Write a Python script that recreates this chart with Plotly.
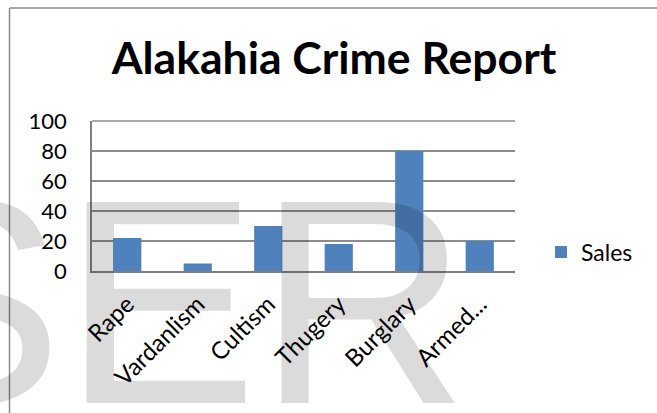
import plotly.graph_objects as go

categories = ["Rape", "Vardanlism", "Cultism", "Thugery", "Burglary", "Armed..."]
sales = [22, 5, 30, 18, 80, 20]
y_ticks = [0, 20, 40, 60, 80, 100]

W, H = 657, 413
L, R, T, B = 92, 515, 121, 271

def px(X):
    return (X - L) / (R - L)

def py(Y):
    return (B - Y) / (B - T)

fig = go.Figure()
fig.add_trace(go.Bar(
    x=categories, y=sales, name="Sales",
    marker=dict(color="#4F81BD", line=dict(width=0)),
    showlegend=True,
))

grid_col = "#8c8c8c"
fig.update_layout(
    width=W, height=H,
    margin=dict(l=L, r=W - R, t=T, b=H - B, pad=0),
    paper_bgcolor="white", plot_bgcolor="white",
    font=dict(family="Lato, Open Sans, sans-serif", color="black", size=22),
    title=dict(text="<b>Alakahia Crime Report</b>", font=dict(size=44.5, family="Lato"),
               x=334 / W, xanchor="center", xref="container",
               y=1 - 58 / H, yanchor="middle", yref="container"),
    bargap=0.6,
    showlegend=True,
    legend=dict(x=px(541), y=py(252), xanchor="left", yanchor="middle",
                font=dict(size=23), bgcolor="rgba(0,0,0,0)"),
    xaxis=dict(tickangle=-45, showgrid=False, showline=True, linecolor="#7f7f7f",
               linewidth=1.5, ticks="", tickfont=dict(size=24), ticklabelstandoff=8),
    yaxis=dict(range=[0, 100], tickvals=y_ticks, showgrid=True, gridcolor=grid_col,
               gridwidth=1.5, showline=True, linecolor="#7f7f7f", linewidth=1.5,
               ticks="", tickfont=dict(size=22), ticklabelstandoff=19, zeroline=False),
    shapes=[
        dict(type="line", xref="paper", yref="paper", x0=px(9.5), x1=px(670),
             y0=py(8), y1=py(8), line=dict(color="#8a8a8a", width=1.5)),
        dict(type="line", xref="paper", yref="paper", x0=px(9.5), x1=px(9.5),
             y0=py(8), y1=py(420), line=dict(color="#8a8a8a", width=1.5)),
        dict(type="line", xref="paper", yref="paper", x0=0, x1=1,
             y0=1, y1=1, line=dict(color=grid_col, width=1.5)),
    ],
    annotations=[
        dict(text="SER", xref="paper", yref="paper", x=px(168), y=py(137),
             xanchor="center", yanchor="top", showarrow=False,
             font=dict(family="Liberation Sans, Arial", size=292, color="rgba(0,0,0,0.14)")),
    ],
)

fig.write_html("out.html", config={"displayModeBar": False},
               post_script="document.body.style.margin='0';")
